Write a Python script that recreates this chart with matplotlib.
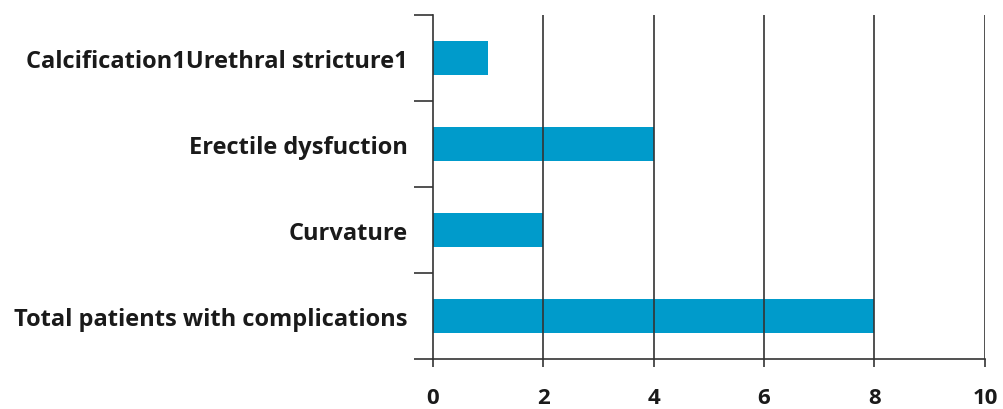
import numpy as np
import matplotlib.pyplot as plt

# complication counts, bottom to top
categories = ['Total patients with complications', 'Curvature', 'Erectile dysfuction',
              'Calcification1Urethral stricture1']
counts = [8, 2, 4, 1]
xticks = [0, 2, 4, 6, 8, 10]

plt.rcParams['font.family'] = ['Open Sans', 'DejaVu Sans']

fig = plt.figure(figsize=(10.04, 4.10), dpi=100)
ax = fig.add_axes([0.431, 0.122, 0.550, 0.839])

y = np.arange(len(categories))
ax.barh(y, counts, height=0.4, color='#009bcb', zorder=1)

ax.set_xlim(0, 10)
ax.set_ylim(-0.5, len(categories) - 0.5)
ax.set_xticks(xticks)
ax.set_xticklabels([str(t) for t in xticks], fontsize=16, fontweight='bold', color='#1a1a1a')

# category labels sit between the boundary ticks
ax.set_yticks(np.arange(-0.5, len(categories), 1.0))
ax.set_yticklabels([])
ax.set_yticks(y, minor=True)
ax.set_yticklabels(categories, minor=True, fontsize=17, fontweight='bold', color='#1a1a1a')
ax.tick_params(axis='y', which='minor', length=0, pad=18)
ax.tick_params(axis='y', which='major', length=14, width=1.2, color='#333333')
ax.tick_params(axis='x', length=6, width=1.2, color='#333333', pad=14)

for t in xticks[1:]:
    ax.axvline(t, color='#333333', lw=1.2, zorder=2)

for s in ['top', 'right']:
    ax.spines[s].set_visible(False)
for s in ['left', 'bottom']:
    ax.spines[s].set_color('#333333')
    ax.spines[s].set_linewidth(1.2)

fig.savefig('out.png', dpi=100)
